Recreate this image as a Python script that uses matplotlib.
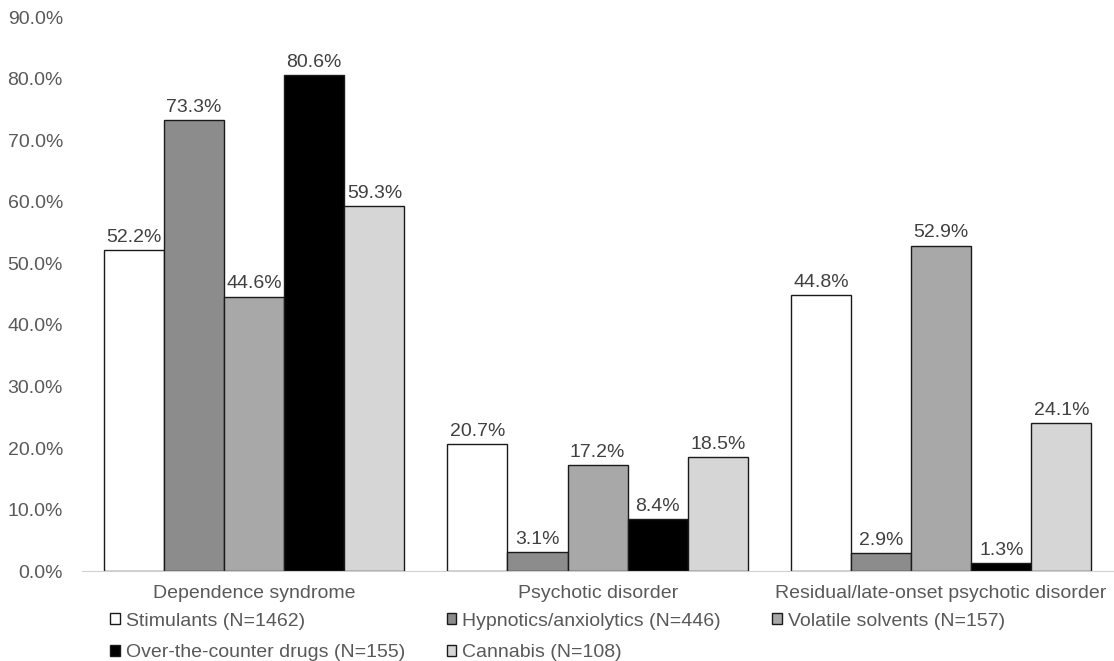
import numpy as np
import matplotlib
matplotlib.use("Agg")
import matplotlib.pyplot as plt

plt.rcParams['font.family'] = ['Liberation Sans', 'DejaVu Sans']

# Dati
categories = ["Dependence syndrome", "Psychotic disorder", "Residual/late-onset psychotic disorder"]
series_names = ["Stimulants (N=1462)", "Hypnotics/anxiolytics (N=446)", "Volatile solvents (N=157)",
                "Over-the-counter drugs (N=155)", "Cannabis (N=108)"]
stimulants = [52.2, 20.7, 44.8]
hypnotics = [73.3, 3.1, 2.9]
solvents = [44.6, 17.2, 52.9]
otc = [80.6, 8.4, 1.3]
cannabis = [59.3, 18.5, 24.1]
y_ticks = [0, 10, 20, 30, 40, 50, 60, 70, 80, 90]

series = [stimulants, hypnotics, solvents, otc, cannabis]
colors = ["#ffffff", "#8c8c8c", "#a8a8a8", "#000000", "#d6d6d6"]
text_color = "#595959"

fig = plt.figure(figsize=(11.14, 6.61), dpi=100)
ax = fig.add_axes([0.074, 0.136, 0.925, 0.838])

x = np.arange(len(categories))
width = 0.875 / 5
handles = []
for i, (vals, name, col) in enumerate(zip(series, series_names, colors)):
    pos = x - 0.4375 + width * (i + 0.5)
    bars = ax.bar(pos, vals, width, color=col, edgecolor="#1a1a1a", linewidth=1.0, label=name)
    handles.append(bars)
    for p, v in zip(pos, vals):
        ax.annotate(f"{v:.1f}%", (p, v), xytext=(0, 3), textcoords="offset points",
                    ha="center", va="bottom", fontsize=14, color="#404040")

ax.set_xlim(-0.5, 2.5)
ax.set_ylim(0, 90)
ax.set_yticks(y_ticks)
ax.set_yticklabels([f"{t:.1f}%" for t in y_ticks], fontsize=14, color=text_color)
ax.set_xticks(x)
ax.set_xticklabels(categories, fontsize=14, color=text_color)
ax.tick_params(length=0)
ax.tick_params(axis="x", pad=10)
ax.tick_params(axis="y", pad=14)

for s in ["top", "right", "left"]:
    ax.spines[s].set_visible(False)
ax.spines["bottom"].set_color("#d0d0d0")

# Legenda: tre colonne, riempite per righe
columns = [[0, 3], [1, 4], [2]]
col_x = [0.0987, 0.401, 0.693]
for idx, cx in zip(columns, col_x):
    leg = fig.legend([handles[i] for i in idx], [series_names[i] for i in idx],
                     loc="upper left", bbox_to_anchor=(cx, 0.073), frameon=False,
                     fontsize=14, handlelength=0.5, handleheight=0.5, handletextpad=0.3,
                     labelspacing=0.75, borderaxespad=0, borderpad=0)
    for t in leg.get_texts():
        t.set_color(text_color)

fig.savefig("out.png", dpi=100)
